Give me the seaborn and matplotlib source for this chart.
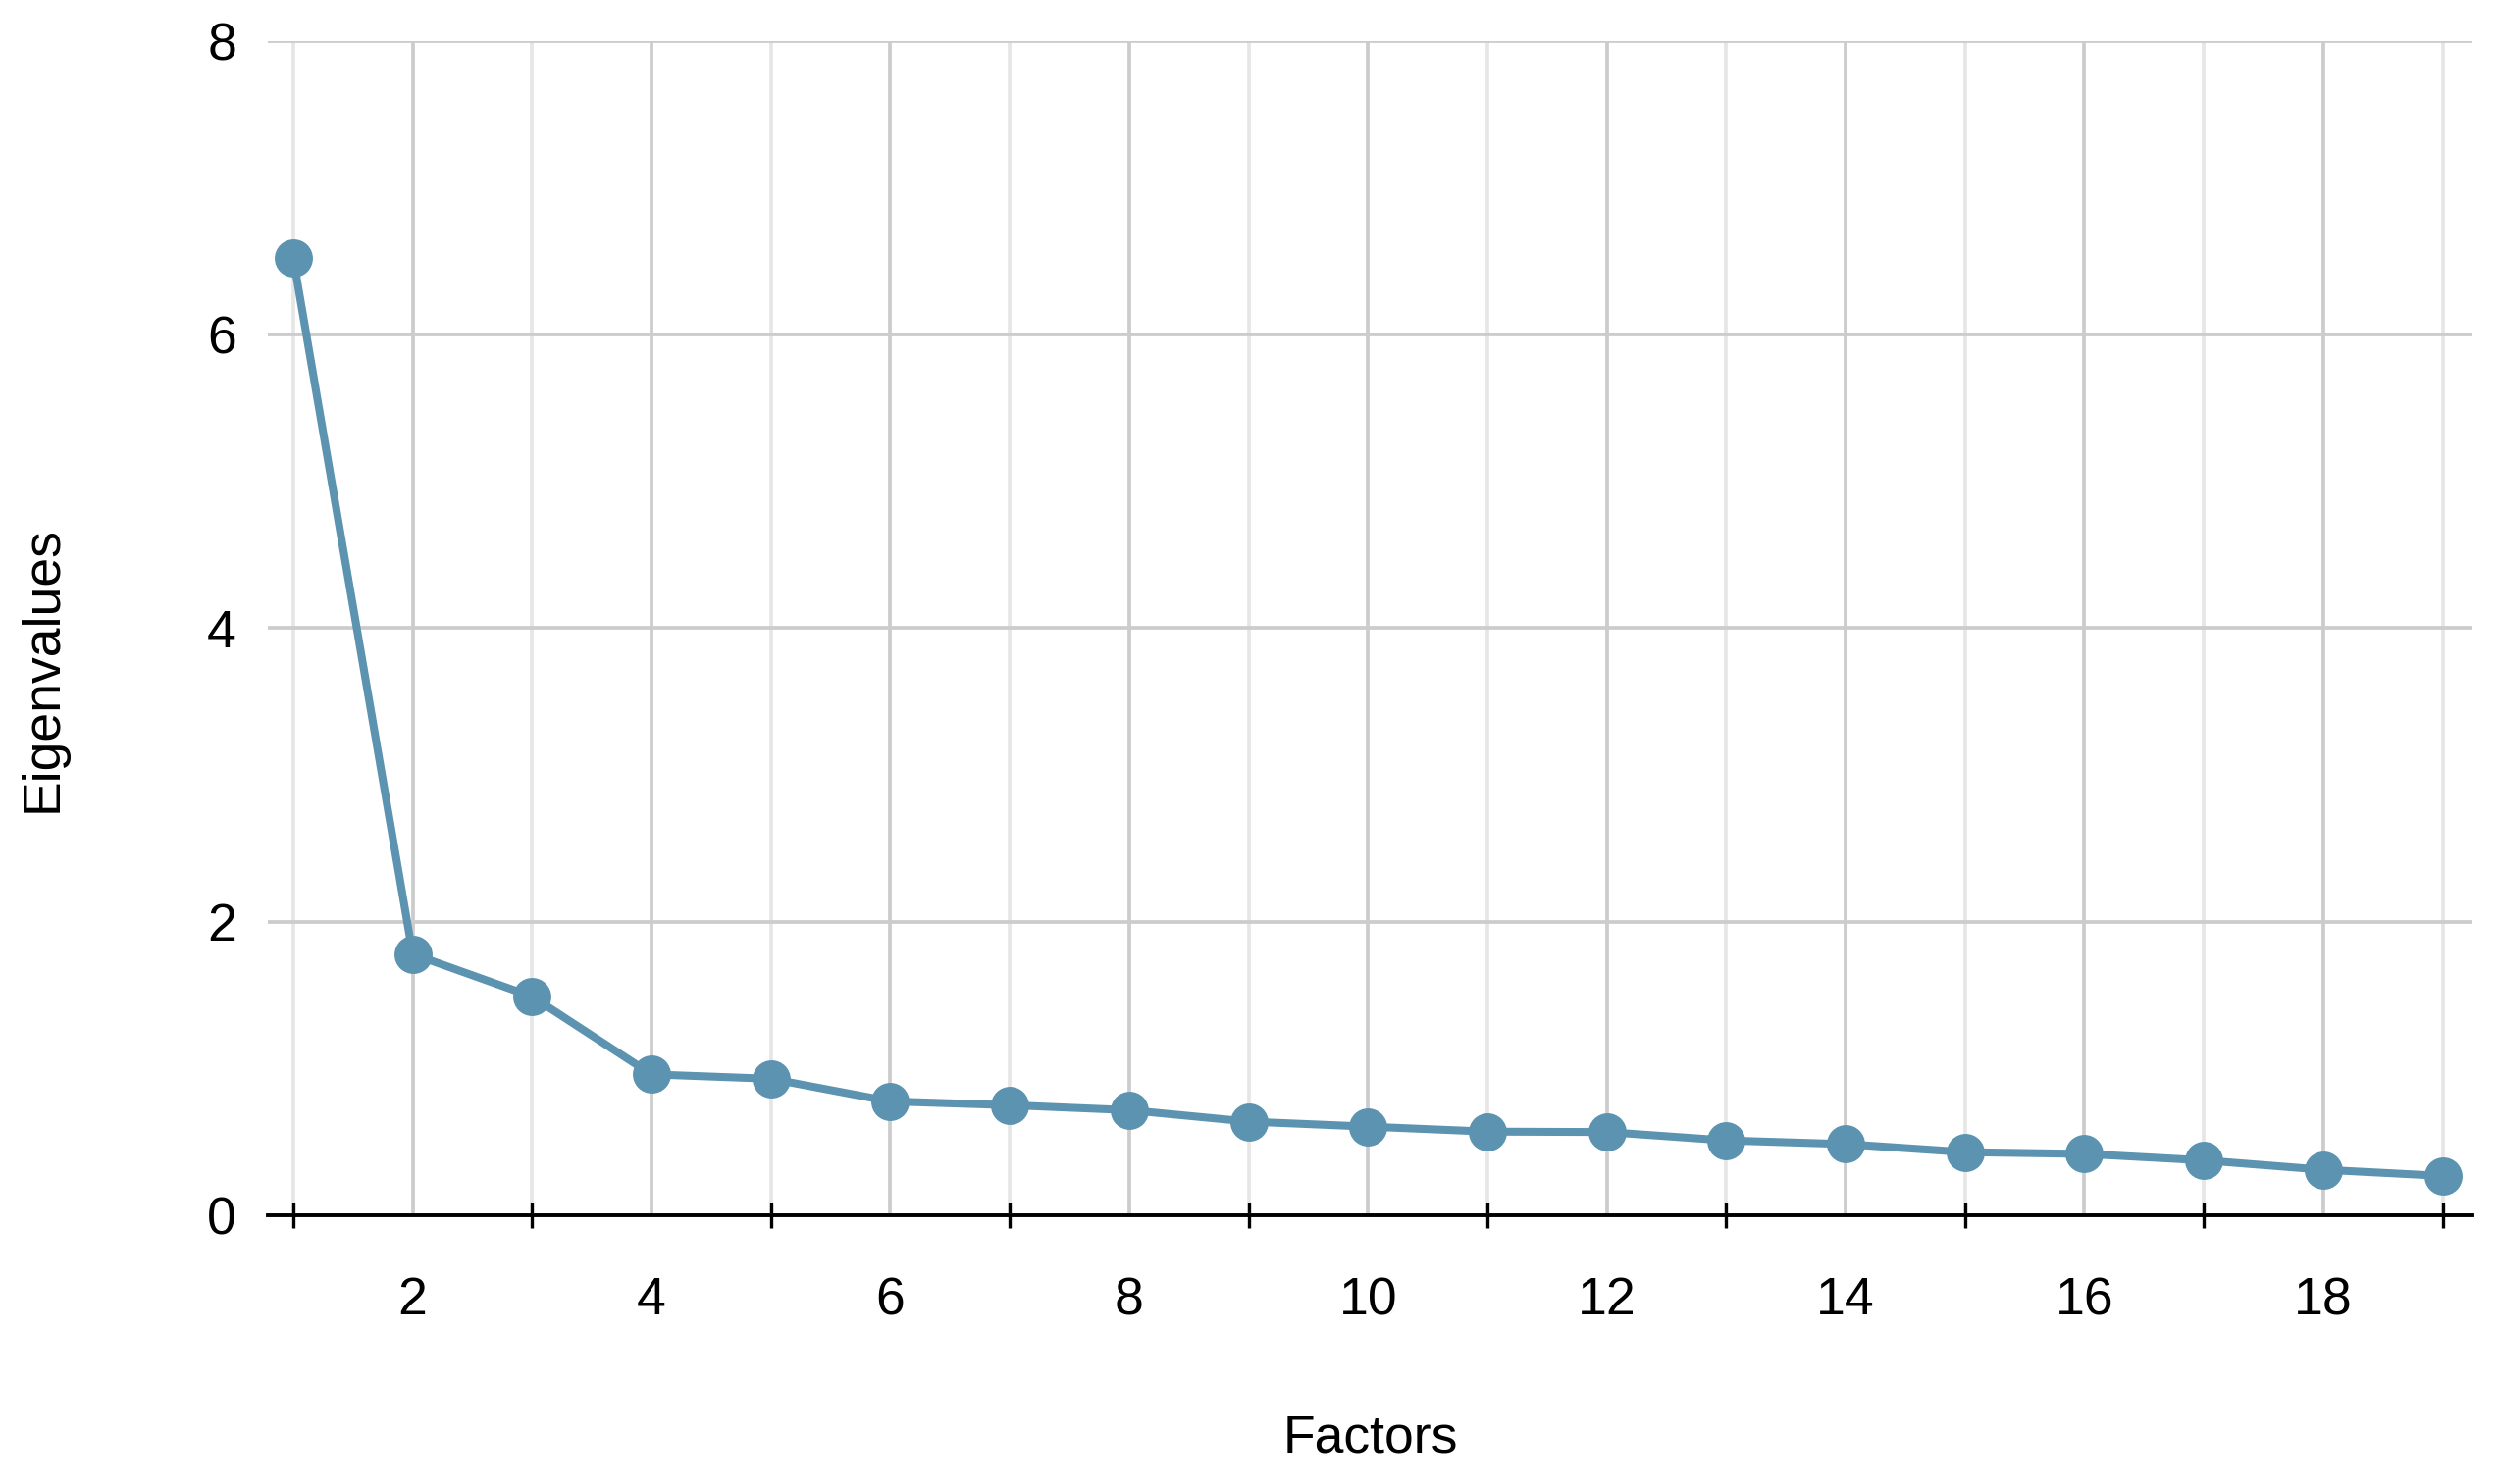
import numpy as np
import pandas as pd
import seaborn as sns
import matplotlib.pyplot as plt
from matplotlib.ticker import FixedLocator

# data
factors = list(range(1, 20))
eigenvalues = [6.52, 1.78, 1.49, 0.96, 0.93, 0.776, 0.75, 0.716, 0.638, 0.604,
               0.57, 0.567, 0.51, 0.485, 0.43, 0.418, 0.374, 0.31, 0.268]
x_labels = [2, 4, 6, 8, 10, 12, 14, 16, 18]
y_ticks = [0, 2, 4, 6, 8]

df = pd.DataFrame({"Factors": factors, "Eigenvalues": eigenvalues})

sns.set_theme(style="white")
plt.rcParams['font.family'] = ['Liberation Sans', 'DejaVu Sans']

fig = plt.figure(figsize=(25.46, 15.13), dpi=100)
ax = fig.add_axes([273 / 2546, 1 - 1239 / 1513, 2247 / 2546, 1197 / 1513])

line_col = "#5b93b0"
fs = 38.5

# grids: darker at even factors, lighter at odd factors
ax.set_axisbelow(True)
ax.xaxis.set_major_locator(FixedLocator(x_labels))
ax.xaxis.set_minor_locator(FixedLocator(factors[::2]))
ax.yaxis.set_major_locator(FixedLocator(y_ticks))
ax.grid(True, which="major", axis="both", color="#cccccc", linewidth=2.7)
ax.grid(True, which="minor", axis="x", color="#e6e6e6", linewidth=2.7)

sns.lineplot(data=df, x="Factors", y="Eigenvalues", ax=ax, color=line_col,
             linewidth=5.8, marker="o", markersize=28, markeredgewidth=0,
             zorder=3)

ax.set_xlim(0.787, 19.25)
ax.set_ylim(0, 8)

for s in ["top", "right", "left"]:
    ax.spines[s].set_visible(False)
ax.spines["bottom"].set_color("black")
ax.spines["bottom"].set_linewidth(2.8)
ax.spines["bottom"].set_zorder(4)

ax.tick_params(axis="x", which="major", length=0, pad=45, labelsize=fs,
               labelcolor="black")
ax.tick_params(axis="x", which="minor", direction="inout", length=19,
               width=2.4, color="black", bottom=True)
ax.tick_params(axis="y", which="major", length=0, pad=23, labelsize=fs,
               labelcolor="black")

ax.set_xlabel("Factors", fontsize=fs, color="black")
ax.set_ylabel("Eigenvalues", fontsize=fs, color="black")
ax.xaxis.set_label_coords(0.5, -0.190)
ax.xaxis.label.set_va("center")
ax.yaxis.set_label_coords(-0.102, 0.465)
ax.yaxis.label.set_va("center")

fig.savefig("out.png", dpi=100)
